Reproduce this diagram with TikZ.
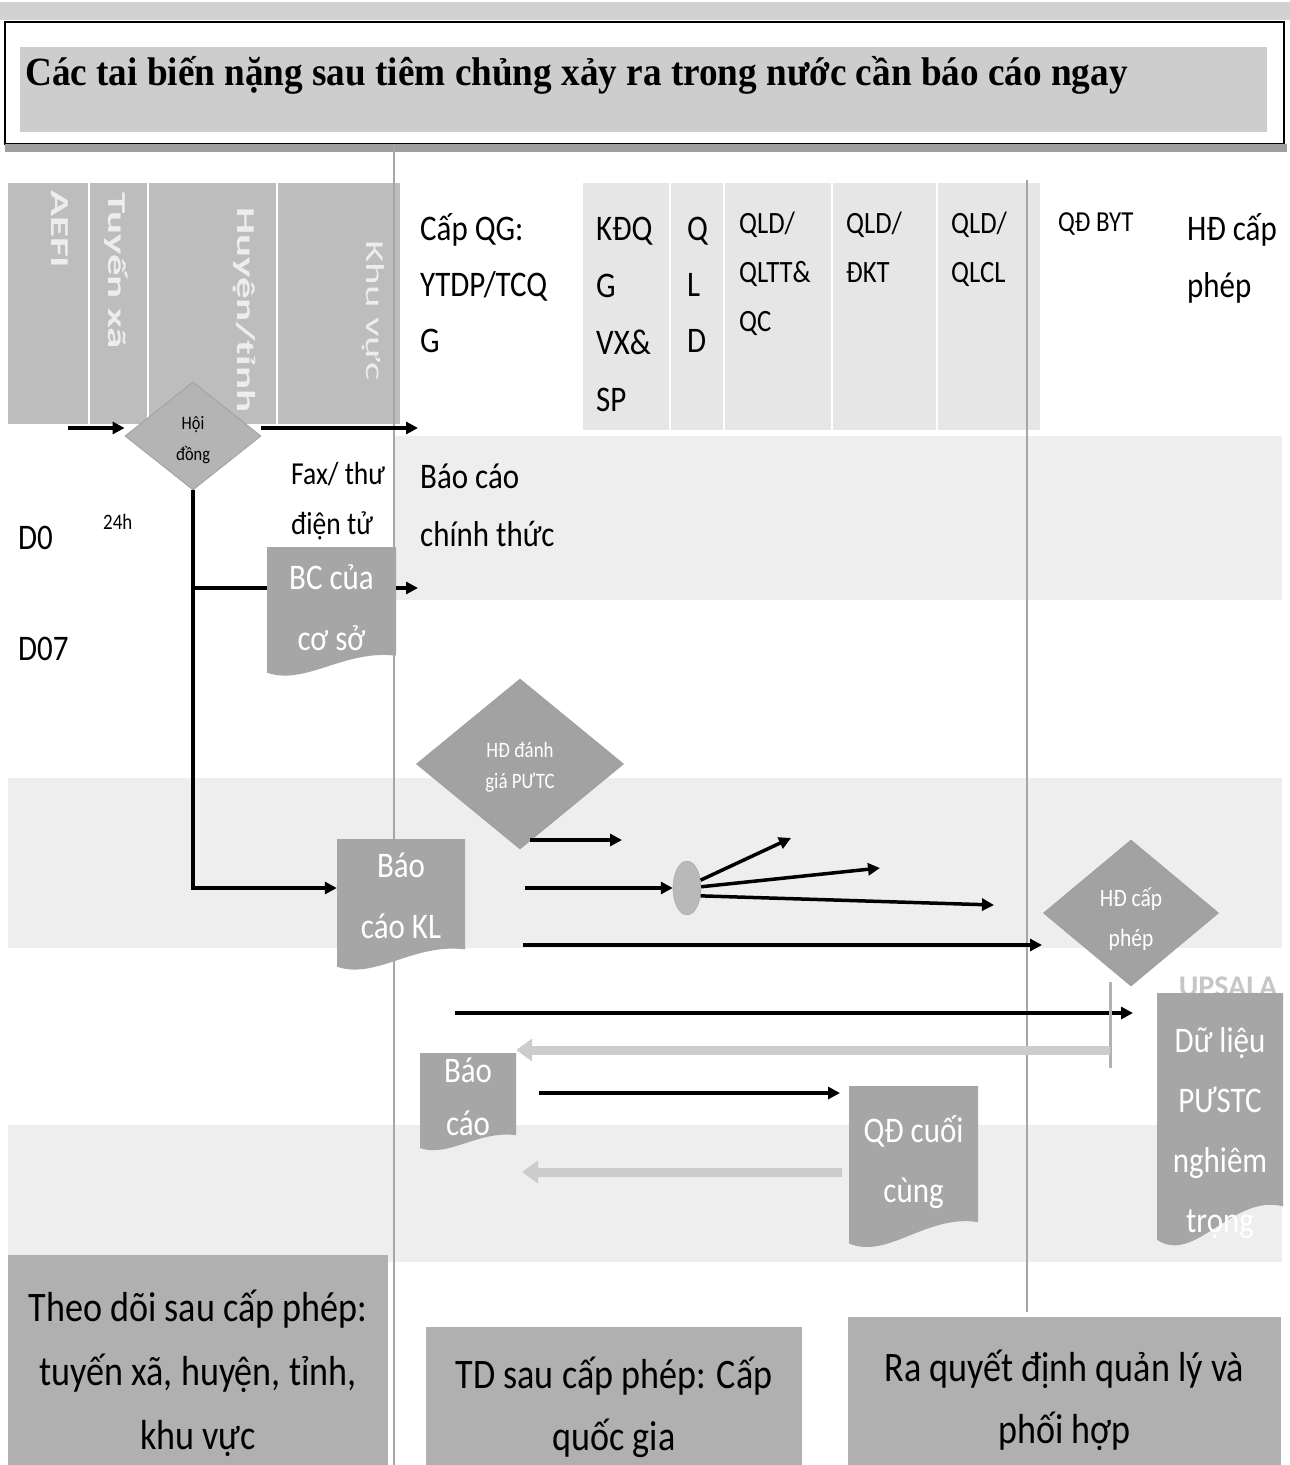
\documentclass[tikz,border=0pt]{standalone}
\usepackage{fontspec}
\setmainfont{Carlito}[FakeStretch=0.86]
\newfontfamily\lanefont{Carlito}
\newfontfamily\titlefont{Liberation Serif}[FakeStretch=0.93]
\usetikzlibrary{shapes.geometric,arrows.meta}
\definecolor{shapegray}{HTML}{A2A2A2}
\definecolor{hdgray}{HTML}{B4B4B4}
\definecolor{docfill}{HTML}{A6A6A6}
\definecolor{lanegray}{HTML}{BDBDBD}
\definecolor{titlegray}{HTML}{CDCDCD}
\definecolor{boxgray}{HTML}{B0B0B0}
\definecolor{bandgray}{HTML}{EEEEEE}
\definecolor{lightcol}{HTML}{E6E6E6}
\newcommand\fs[2]{\fontsize{#1}{#2}\selectfont}
\newcommand\ltext[1]{\vtop{\halign{##\hfil\cr#1\crcr}}}
\newcommand\ctext[1]{\vtop{\halign{\hfil##\hfil\cr#1\crcr}}}
\tikzset{
  txt/.style={anchor=base west, inner sep=0pt},
  arr/.style={line width=3.5pt, draw=black, -{Triangle[length=12pt,width=12pt]}},
  plain/.style={line width=3.5pt, draw=black},
  garr/.style={line width=9pt, draw=gray!40, -{Triangle[length=16pt,width=22pt]}},
  dia/.style={diamond, inner sep=0pt, fill=shapegray, draw=gray!75, line width=0.8pt},
  whitetext/.style={text=white, inner sep=0pt, anchor=base},
  lane/.style={rotate=-90, anchor=west, inner sep=0pt, text=white!93!black},
  divider/.style={draw=gray!70, line width=2pt},
  bbox/.style={fill=boxgray, inner sep=0pt},
}
\newcommand\docbox[8]{%
  \node[inner sep=0pt, minimum width={#4-#2}, minimum height={#5-#3}] (#1) at ({(#2+#4)/2},{(#3+#5)/2}) {};
  \fill[docfill] (#2,#3) -- (#4,#3) -- (#4,{#5-0.17*(#5-#3)})
    .. controls ({#2+0.6*(#4-#2)},{#5-0.22*(#5-#3)}) and ({#2+0.3*(#4-#2)},{#5+0.06*(#5-#3)}) ..
    (#2,{#5-0.04*(#5-#3)}) -- cycle;
  \node[whitetext, font=\fs{36}{#7}] (#1-t) at ({(#2+#4)/2},#6) {\ctext{#8}};
}
\begin{document}
\begin{tikzpicture}[x=1pt,y=-1pt]
\useasboundingbox (0,0) rectangle (1290,1465);
\fill[white] (0,0) rectangle (1290,1465);
% background strips and bands
\fill[gray!35] (0,2) rectangle (1290,20);
\fill[bandgray] (395,436) rectangle (1282,600);
\fill[bandgray] (8,778) rectangle (1282,948);
\fill[bandgray] (8,1125) rectangle (1282,1262);
% title
\draw[line width=1.5pt, fill=white] (5,22) rectangle (1284,144);
\fill[titlegray] (20,47) rectangle (1267,132);
\fill[gray!75] (5,144) rectangle (1287,152);
\node[txt, font=\titlefont\bfseries\fs{40}{48}] (title) at (25,85) {Các tai biến nặng sau tiêm chủng xảy ra trong nước cần báo cáo ngay};
% lane header
\fill[lanegray] (8,183) rectangle (400,424);
\draw[white, line width=2pt] (89,183) -- (89,424) (148,183) -- (148,424) (277,183) -- (277,424);
\node[lane, font=\lanefont\bfseries\fs{43}{50}] (aefi) at (60,190) {\scalebox{1}[0.6]{AEFI}};
\node[lane, font=\lanefont\bfseries\fs{43}{50}] (xa) at (116,192) {\scalebox{1}[0.6]{Tuyến xã}};
\node[lane, font=\lanefont\bfseries\fs{43}{50}] (huyen) at (244,207) {\scalebox{1}[0.6]{Huyện/tỉnh}};
\node[lane, font=\lanefont\fs{43}{50}] (kv) at (373,240) {\scalebox{1}[0.6]{Khu vực}};
% light header area
\fill[lightcol] (583,183) rectangle (1040,430);
\draw[white, line width=2pt] (670,183) -- (670,430) (724,183) -- (724,430) (832,183) -- (832,430) (937,183) -- (937,430);
% dividers
\draw[divider] (394,146) -- (394,1465);
\draw[divider] (1027,180) -- (1027,1312);
% column headers
\node[txt, font=\fs{36}{56}] (capqg) at (420,240) {\ltext{Cấp QG:\cr YTDP/TCQ\cr G}};
\node[txt, font=\fs{36}{57}] (kdq) at (596,240) {\ltext{KĐQ\cr G\cr VX\&\cr SP}};
\node[txt, font=\fs{36}{56}] (qldcol) at (687,240) {\ltext{Q\cr L\cr D}};
\node[txt, font=\fs{31}{49}] (qltt) at (739,233) {\ltext{QLD/\cr QLTT\&\cr QC}};
\node[txt, font=\fs{31}{49}] (dkt) at (846,233) {\ltext{QLD/\cr ĐKT}};
\node[txt, font=\fs{31}{49}] (qlcl) at (951,233) {\ltext{QLD/\cr QLCL}};
\node[txt, font=\fs{29}{49}] (qdbyt) at (1058,231) {QĐ BYT};
\node[txt, font=\fs{36}{57}] (hdcol) at (1187,240) {\ltext{HĐ cấp\cr phép}};
% other labels
\node[txt, font=\fs{32}{50}] (fax) at (291,484) {\ltext{Fax/ thư\cr điện tử}};
\node[txt, font=\fs{36}{58}] (bcct) at (420,488) {\ltext{Báo cáo\cr chính thức}};
\node[txt, font=\fs{36}{40}] (d0) at (18,549) {D0};
\node[txt, font=\fs{22}{26}] (h24) at (103,529) {24h};
\node[txt, font=\fs{36}{40}] (d07) at (18,660) {D07};
% diamonds
\node[dia, fill=hdgray, minimum width=136, minimum height=108] (hoidong) at (193,436) {};
\node[inner sep=0pt, anchor=base, font=\fs{19}{31}] (hoidong-t) at (193,429) {\ctext{Hội\cr đồng}};
\node[dia, minimum width=207, minimum height=170] (hddg) at (520,764) {};
\node[whitetext, font=\fs{22}{31}] (hddg-t) at (520,757) {\ctext{HĐ đánh\cr giá PƯTC}};
\node[dia, minimum width=175, minimum height=146] (hdcap) at (1131,913) {};
\node[whitetext, font=\fs{25}{40}] (hdcap-t) at (1131,906) {\ctext{HĐ cấp\cr phép}};
\node[ellipse, fill=gray!55, draw=gray!70, minimum width=28, minimum height=54, inner sep=0pt] (ell) at (687,888) {};
% documents
\node[inner sep=0pt, anchor=base, font=\lanefont\bfseries\fs{30}{34}, text=gray!45] (ups) at (1228,996) {UPSALA};
\docbox{bc}{267}{547}{396}{678}{589}{61}{BC của\cr cơ sở}
\docbox{kl}{337}{839}{465}{972}{877}{61}{Báo\cr cáo KL}
\docbox{bao}{420}{1053}{516}{1152}{1082}{53}{Báo\cr cáo}
\docbox{qd}{849}{1086}{978}{1250}{1142}{60}{QĐ cuối\cr cùng}
\docbox{dl}{1157}{993}{1283}{1250}{1052}{60}{Dữ liệu\cr PƯSTC\cr nghiêm\cr trọng}
% coordinates
\coordinate (in0) at (68,428);
\coordinate (out0) at (418,428);
\coordinate (y588) at (0,588);
\coordinate (out1) at (418,588);
\coordinate (y888) at (0,888);
\coordinate (a1s) at (530,840); \coordinate (a1e) at (622,840);
\coordinate (a2s) at (525,888);
\coordinate (e1) at (791,838); \coordinate (e2) at (880,868); \coordinate (e3) at (994,905);
\coordinate (a4s) at (523,945); \coordinate (a4e) at (1042,945);
\coordinate (a5s) at (455,1013); \coordinate (a5e) at (1133,1013);
\coordinate (g0) at (1110,982); \coordinate (g1) at (1110,1050); \coordinate (g2) at (1110,1068);
\coordinate (a6s) at (539,1093); \coordinate (a6e) at (840,1093);
\coordinate (g3s) at (842,1172); \coordinate (g3e) at (522,1172);
% connectors
\draw[arr] (in0) -- (in0 -| hoidong.west);
\draw[arr] (hoidong.east |- in0) -- (out0);
\draw[arr] (hoidong.south) |- (kl.west |- y888);
\draw[plain] (hoidong.south |- y588) -- (bc.west |- y588);
\draw[arr] (bc.east |- y588) -- (out1);
\draw[arr] (a1s) -- (a1e);
\draw[arr] (a2s) -- (ell.west);
\draw[arr] (ell.30) -- (e1);
\draw[arr] (ell.5) -- (e2);
\draw[arr] (ell.-30) -- (e3);
\draw[arr] (a4s) -- (a4e);
\draw[arr] (a5s) -- (a5e);
\draw[draw=gray!60, line width=3pt] (g0) -- (g2);
\draw[garr] (g1) -- (bao.east |- g1);
\draw[arr] (a6s) -- (a6e);
\draw[garr] (g3s) -- (g3e);
% bottom boxes
\node[bbox, minimum width=380, minimum height=210] (box1) at (198,1360) {};
\node[inner sep=0pt, anchor=base, font=\fs{42}{64}] (box1-t) at (198,1321) {\ctext{Theo dõi sau cấp phép:\cr tuyến xã, huyện, tỉnh,\cr khu vực}};
\node[bbox, minimum width=376, minimum height=138] (box2) at (614,1396) {};
\node[inner sep=0pt, anchor=base, font=\fs{42}{62}] (box2-t) at (614,1388) {\ctext{TD sau cấp phép: Cấp\cr quốc gia}};
\node[bbox, minimum width=433, minimum height=148] (box3) at (1064.5,1391) {};
\node[inner sep=0pt, anchor=base, font=\fs{42}{62}] (box3-t) at (1064.5,1381) {\ctext{Ra quyết định quản lý và\cr phối hợp}};
\end{tikzpicture}
\end{document}
